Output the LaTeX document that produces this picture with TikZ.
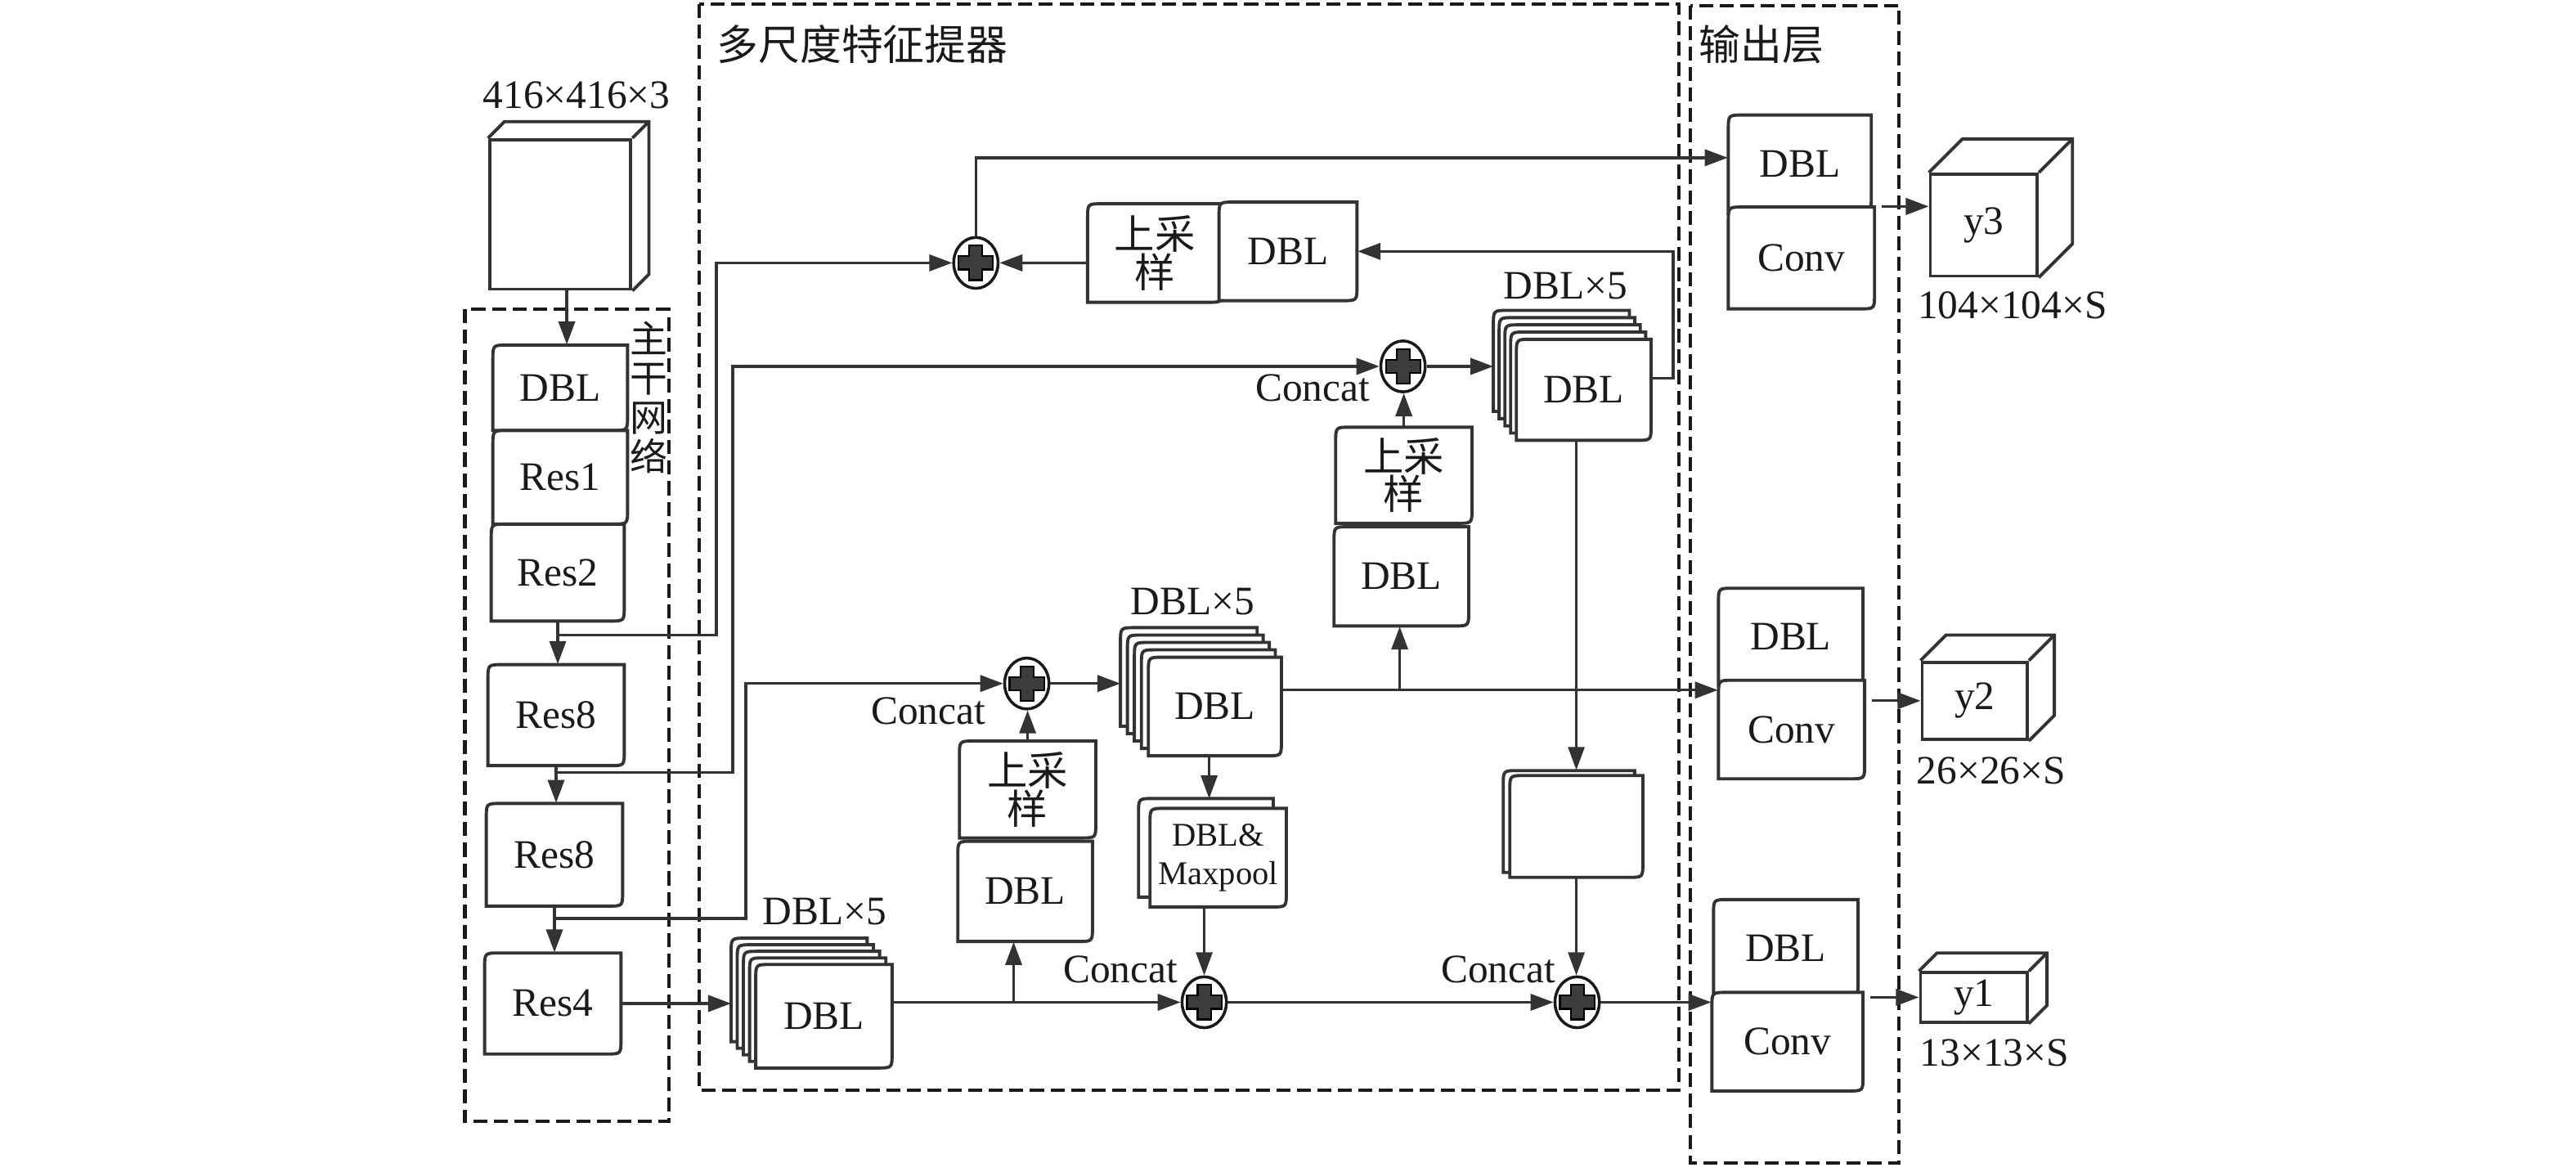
\documentclass[tikz,border=0pt]{standalone}
\usepackage{fontspec}
\setmainfont{Liberation Serif}
\newfontfamily\cjk{Noto Sans CJK SC}
\usetikzlibrary{arrows.meta,backgrounds,shapes.geometric}
\definecolor{LineDark}{HTML}{333333}
\definecolor{InkDark}{HTML}{1A1A1A}
\definecolor{PlusFill}{HTML}{3C3C3C}

% block outline: rounded top-left and bottom-right corners (x1,y1,x2,y2)
\newcommand\blkoutline[4]{%
  \begin{scope}[on background layer]
    \draw[blkline] (#1,#4) -- (#1,#2+9) .. controls (#1,#2) .. (#1+9,#2) -- (#3,#2)
      -- (#3,#4-9) .. controls (#3,#4) .. (#3-9,#4) -- cycle;
  \end{scope}}
% block node with its outline
\newcommand\blk[7][]{%
  \blkoutline{#3}{#4}{#5}{#6}
  \node[blk,minimum width={(#5-#3)*0.02cm},minimum height={(#6-#4)*0.02cm},#1] (#2) at ({(#3+#5)/2},{(#4+#6)/2}) {#7};}

\begin{document}
\begin{tikzpicture}[x=0.02cm,y=-0.02cm,>={Triangle[length=2.8mm,width=2mm]},
  blkline/.style={draw=LineDark,line width=1.1pt,fill=white},
  blk/.style={inner sep=0pt,align=center,text=InkDark,font=\fontsize{14}{16}\selectfont},
  cnfont/.style={font=\cjk\fontsize{14}{13.2}\selectfont},
  smallfont/.style={font=\fontsize{11.5}{13.3}\selectfont},
  lbl/.style={inner sep=0pt,text=InkDark,font=\fontsize{14}{16}\selectfont},
  cnlbl/.style={inner sep=0pt,text=InkDark,font=\cjk\fontsize{14.4}{16}\selectfont},
  cube/.style={draw=LineDark,line width=1.1pt,fill=white,inner sep=0pt,text=InkDark,font=\fontsize{14}{16}\selectfont},
  arr/.style={->,draw=LineDark,line width=0.95pt},
  arrthin/.style={arr,line width=0.7pt},
  region/.style={draw=InkDark,line width=1.2pt,dash pattern=on 0.17cm off 0.08cm},
  addop/.style={ellipse,draw=InkDark,line width=1pt,fill=white,inner sep=0pt,
    minimum width=0.54cm,minimum height=0.62cm,
    path picture={\draw[fill=PlusFill,draw=black,line width=0.6pt]
      ([shift={(-0.08cm,0.21cm)}]path picture bounding box.center) -- ++(0.16cm,0cm) -- ++(0cm,-0.13cm)
      -- ++(0.13cm,0cm) -- ++(0cm,-0.16cm) -- ++(-0.13cm,0cm) -- ++(0cm,-0.13cm) -- ++(-0.16cm,0cm)
      -- ++(0cm,0.13cm) -- ++(-0.13cm,0cm) -- ++(0cm,0.16cm) -- ++(0.13cm,0cm) -- cycle;}}]

\begin{scope}[on background layer]
  \fill[white] (0,0) rectangle (1568,713);
\end{scope}
\useasboundingbox (0,0) rectangle (1568,713);

% regions
\draw[region] (283,188) rectangle (407,682.6);
\draw[region] (425.6,2.5) rectangle (1022,663.5);
\draw[region] (1029,3.3) rectangle (1156,708);
\node[cnlbl,anchor=west] (tMid) at (436,27) {多尺度特征提器};
\node[cnlbl,anchor=west] (tOut) at (1034,27) {输出层};
\node[cnlbl,align=center,font=\cjk\fontsize{13}{13.6}\selectfont] (tBack) at (395,242) {主\\干\\网\\络};

% input and backbone
\node[lbl] (inSize) at (351,58) {416×416×3};
\node[cube,minimum width=1.72cm,minimum height=1.82cm] (inp) at (341,130.5) {};
\blk{dbl0}{300}{210}{382}{262}{DBL}
\blk{res1}{300}{262}{382}{319}{Res1}
\blk{res2}{299}{319}{380}{378}{Res2}
\blk{res8a}{297}{404.5}{380}{466}{Res8}
\blk{res8b}{296}{489}{379}{551.5}{Res8}
\blk{res4}{295}{580}{378}{641.5}{Res4}

% multi-scale extractor
\foreach \k in {4,...,1} \blkoutline{460-3.75*\k}{587-4*\k}{543-3.8*\k}{650-4*\k};
\blk{stackL}{460}{587}{543}{650}{DBL}
\foreach \k in {4,...,1} \blkoutline{699-4.25*\k}{400-4.5*\k}{780-3.7*\k}{460-4.5*\k};
\blk{stackM}{699}{400}{780}{460}{DBL}
\foreach \k in {4,...,1} \blkoutline{923-3.5*\k}{206.5-4.4*\k}{1005-3.3*\k}{268-4.4*\k};
\blk{stackU}{923}{206.5}{1005}{268}{DBL}
\node[lbl] (nL) at (502,555) {DBL×5};
\node[lbl] (nM) at (726,366) {DBL×5};
\node[lbl] (nU) at (953,174) {DBL×5};

\blk[cnfont]{upT}{662}{124}{744}{184}{上采\\样}
\blk{dblT}{742}{123}{826}{183}{DBL}
\blk[cnfont]{upU}{813}{260}{896}{318.5}{上采\\样}
\blk{dblU}{812}{320.6}{894}{381}{DBL}
\blk[cnfont]{upL}{584}{451}{667}{510}{上采\\样}
\blk{dblL}{583}{512}{665}{573}{DBL}
\blkoutline{693}{486}{775}{546}
\blk[smallfont]{poolS}{700}{492}{783}{552}{DBL\&\\Maxpool}
\blkoutline{915}{469}{995}{531}
\blk{emptyS}{919}{472}{1000}{534}{}

\node[addop] (addT) at (594,160) {};
\node[addop] (addU) at (854,223) {};
\node[addop] (addM) at (625,416) {};
\node[addop] (addL) at (733,610) {};
\node[addop] (addR) at (960,610) {};
\node[lbl] (cU) at (799,236) {Concat};
\node[lbl] (cM) at (565,433) {Concat};
\node[lbl] (cL) at (682,590) {Concat};
\node[lbl] (cR) at (912,590) {Concat};

% output layer
\blk{dbl3}{1052}{70}{1139}{130}{DBL}
\blk{conv3}{1052}{126}{1141}{188}{Conv}
\blk{dbl2}{1046}{358}{1134}{417}{DBL}
\blk{conv2}{1046}{414}{1135}{474}{Conv}
\blk{dbl1}{1043}{547.5}{1131}{607}{DBL}
\blk{conv1}{1042}{604}{1134}{664}{Conv}
\node[cube,minimum width=1.3cm,minimum height=1.24cm] (cube3) at (1207.5,137) {y3};
\node[cube,minimum width=1.28cm,minimum height=0.94cm] (cube2) at (1202,426.5) {y2};
\node[cube,minimum width=1.3cm,minimum height=0.6cm] (cube1) at (1201.5,607) {y1};
\foreach \c/\d in {inp/10,cube3/20.5,cube2/15.5,cube1/11}
  \draw[blkline,fill=none] (\c.north west) -- ++(\d,-\d) -- ([shift={(\d,-\d)}]\c.north east)
    -- ([shift={(\d,-\d)}]\c.south east) -- (\c.south east) (\c.north east) -- ++(\d,-\d);
\node[lbl] (s3) at (1225,186) {104×104×S};
\node[lbl] (s2) at (1212,469) {26×26×S};
\node[lbl] (s1) at (1214,641) {13×13×S};

% connectors
\coordinate (inArr) at ([xshift=0.08cm]inp.south);
\coordinate (br1) at (339.5,386.6);
\coordinate (br2) at (338.5,470);
\coordinate (br3) at (337.5,559);
\coordinate (bkL) at (445,609);
\coordinate (bkM) at (682,416);
\coordinate (bkU) at (909,223);
\coordinate (bkP) at (736,486);
\coordinate (brL) at (617,610);
\coordinate (brU) at (852,420);
\coordinate (m2) at ([yshift=0.2cm]stackM.east);
\coordinate (u2) at ([yshift=0.14cm]stackU.east);
\coordinate (t1) at ([yshift=-0.12cm]upT.west);
\coordinate (t3) at ([yshift=0.08cm]dbl3.west);
\coordinate (eTop) at ([yshift=0.06cm]emptyS.north);
\coordinate (o3) at ([xshift=0.08cm]conv3.north east);
\coordinate (o2) at (cube2.west -| conv2.east);
\coordinate (o1) at (cube1.west -| conv1.east);

\draw[arr] (inArr) -- (inArr |- dbl0.north);
\draw[arr] (res2.south) -- (res2.south |- res8a.north);
\draw[arr] (res8a.south) -- (res8a.south |- res8b.north);
\draw[arr] (res8b.south) -- (res8b.south |- res4.north);
\draw[arr] (br1) -- ++(96.5,0) |- (addT);
\draw[arr] (br2) -- ++(107.5,0) |- (addU);
\draw[arr] (br3) -- ++(116.5,0) |- (addM);
\draw[arr] (res4.east) -- (res4.east -| bkL);
\draw[arr] (stackL.east |- addL) -- (addL);
\draw[arr] (brL) -- (brL |- dblL.south);
\draw[arr] (upL.north) -- (upL.north |- addM.south);
\draw[arr] (addM) -- (bkM);
\draw[arr] (m2) -- (m2 -| conv2.west);
\draw[arr] (brU) -- (brU |- dblU.south);
\draw[arr] (upU.north) -- (upU.north |- addU.south);
\draw[arr] (addU) -- (bkU);
\draw[arr] (u2) -- ++(13,0) |- (dblT);
\draw[arr] (t1) -- (addT);
\draw[arr] (addT.north) |- (t3);
\draw[arrthin] (stackU.south -| eTop) -- (eTop);
\draw[arrthin] (emptyS.south) -- (emptyS.south |- addR.north);
\draw[arrthin] (stackM.south -| bkP) -- (bkP);
\draw[arrthin] (poolS.south -| addL) -- (addL.north);
\draw[arr] (addL) -- (addR);
\draw[arr] (addR) -- (addR -| conv1.west);
\draw[arr] (o3) -- (o3 -| cube3.west);
\draw[arr] ([xshift=0.08cm]o2) -- (cube2.west);
\draw[arr] ([xshift=0.08cm]o1) -- (cube1.west);
\end{tikzpicture}
\end{document}
